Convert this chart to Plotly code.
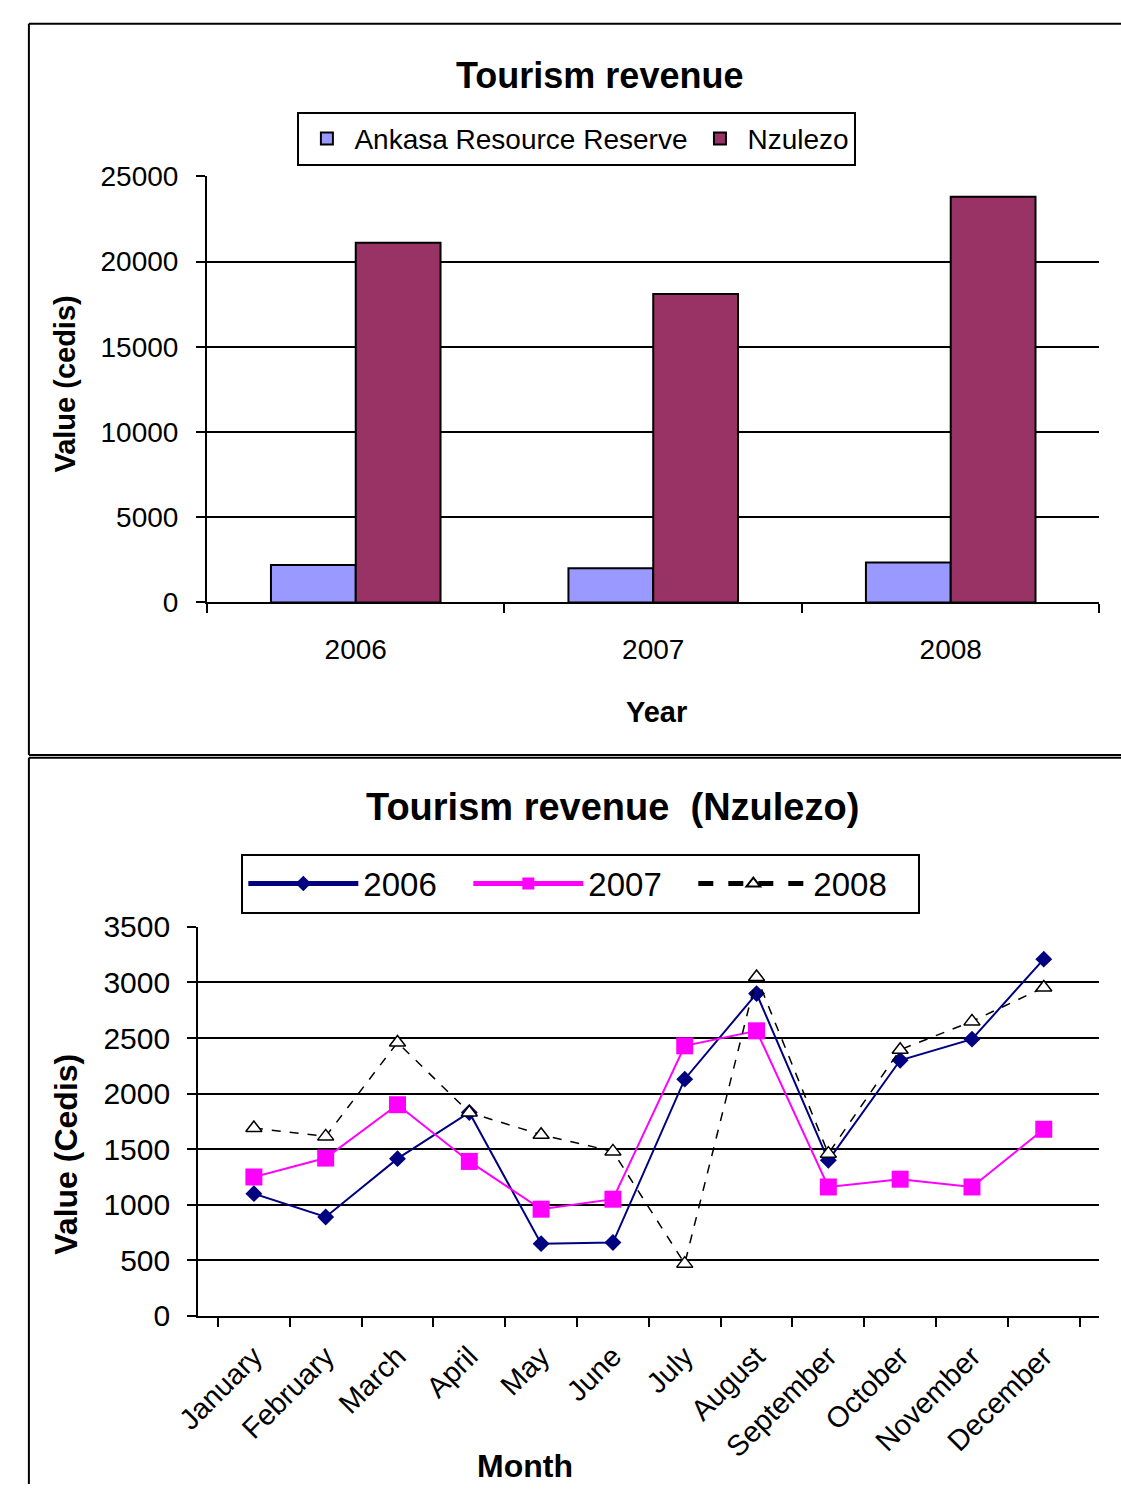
import plotly.graph_objects as go

# ---- data ----
years = ["2006", "2007", "2008"]
ankasa = [2200, 2000, 2350]
nzulezo = [21100, 18100, 23800]

months = ["January", "February", "March", "April", "May", "June", "July",
          "August", "September", "October", "November", "December"]
rev_2006 = [1100, 890, 1415, 1830, 650, 660, 2130, 2900, 1400, 2300, 2490, 3210]
rev_2007 = [1250, 1420, 1900, 1390, 960, 1050, 2430, 2565, 1160, 1230, 1160, 1680]
rev_2008 = [1690, 1615, 2460, 1830, 1630, 1480, 470, 3050, 1460, 2395, 2650, 2955]

top_ticks = [0, 5000, 10000, 15000, 20000, 25000]
bottom_ticks = [0, 500, 1000, 1500, 2000, 2500, 3000, 3500]

W, H = 1121, 1501
FONT = "Liberation Sans, Arial, sans-serif"


def px(x):
    return x / W


def py(y):
    return 1 - y / H


fig = go.Figure()

fig.add_trace(go.Bar(x=years, y=ankasa, name="Ankasa Resource Reserve",
                     marker=dict(color="#9999FF", line=dict(color="black", width=2)),
                     xaxis="x", yaxis="y", legend="legend"))
fig.add_trace(go.Bar(x=years, y=nzulezo, name="Nzulezo",
                     marker=dict(color="#993366", line=dict(color="black", width=2)),
                     xaxis="x", yaxis="y", legend="legend"))

fig.add_trace(go.Scatter(x=months, y=rev_2006, name="2006", mode="lines+markers",
                         line=dict(color="#000080", width=2),
                         marker=dict(symbol="diamond", size=13, color="#000080"),
                         xaxis="x2", yaxis="y2", legend="legend2"))
fig.add_trace(go.Scatter(x=months, y=rev_2007, name="2007", mode="lines+markers",
                         line=dict(color="#FF00FF", width=2),
                         marker=dict(symbol="square", size=17, color="#FF00FF"),
                         xaxis="x2", yaxis="y2", legend="legend2"))
fig.add_trace(go.Scatter(x=months, y=rev_2008, name="2008", mode="lines+markers",
                         line=dict(color="black", width=1.5, dash="dash"),
                         marker=dict(symbol="triangle-up", size=14, color="white",
                                     line=dict(color="black", width=1.5)),
                         xaxis="x2", yaxis="y2", legend="legend2"))

axis_common = dict(showline=True, linecolor="black", linewidth=2, ticks="outside",
                   tickcolor="black", tickwidth=2, ticklen=9, zeroline=False)


def hline(y, x0=5, x1=W):
    return dict(type="line", xref="paper", yref="paper", x0=px(x0), x1=px(x1),
                y0=py(y), y1=py(y), line=dict(color="black", width=2))


def vline(x, y0, y1):
    return dict(type="line", xref="paper", yref="paper", x0=px(x), x1=px(x),
                y0=py(y0), y1=py(y1), line=dict(color="black", width=2))


fig.update_layout(
    width=W, height=H,
    margin=dict(l=0, r=0, t=0, b=0),
    paper_bgcolor="white", plot_bgcolor="white",
    font=dict(family=FONT, color="black"),
    barmode="group", bargap=0.43, bargroupgap=0,
    xaxis=dict(domain=[px(187), px(1099)], anchor="y", type="category",
               tickson="boundaries", ticklabelstandoff=21, showgrid=False,
               tickfont=dict(family=FONT, size=28, color="black"), **axis_common),
    yaxis=dict(domain=[py(599), py(163)], anchor="x", range=[0, 25000],
               tickvals=top_ticks, tickformat="d", showgrid=True, gridcolor="black",
               gridwidth=2, ticklabelstandoff=12,
               tickfont=dict(family=FONT, size=28, color="black"), **axis_common),
    xaxis2=dict(domain=[px(178), px(1099)], anchor="y2", type="category",
                tickson="boundaries", tickangle=-45, showgrid=False,
                ticklabelstandoff=10,
                tickfont=dict(family=FONT, size=29, color="black"), **axis_common),
    yaxis2=dict(domain=[py(1329), py(931)], anchor="x2", range=[0, 3500],
                tickvals=bottom_ticks, tickformat="d", showgrid=True, gridcolor="black",
                gridwidth=2, ticklabelstandoff=11,
                tickfont=dict(family=FONT, size=30, color="black"), **axis_common),
    legend=dict(orientation="h", x=px(565), y=py(97), xanchor="center", yanchor="top",
                bordercolor="black", borderwidth=2, bgcolor="white",
                font=dict(family=FONT, size=28, color="black"),
                itemwidth=45, itemsizing="constant"),
    legend2=dict(orientation="h", x=px(569), y=py(856), xanchor="center", yanchor="top",
                 bordercolor="black", borderwidth=2, bgcolor="white",
                 font=dict(family=FONT, size=33, color="black"),
                 itemwidth=110, entrywidthmode="pixels", entrywidth=100,
                 itemsizing="constant"),
    shapes=[
        hline(7), hline(755), hline(758),
        vline(5, 7, 755), vline(5, 758, H),
    ],
    annotations=[
        dict(text="<b>Tourism revenue</b>", x=px(588), y=py(60), xref="paper", yref="paper",
             xanchor="center", yanchor="middle", showarrow=False,
             font=dict(family=FONT, size=36, color="black")),
        dict(text="<b>Year</b>", x=px(646), y=py(711), xref="paper", yref="paper",
             xanchor="center", yanchor="middle", showarrow=False,
             font=dict(family=FONT, size=29, color="black")),
        dict(text="<b>Value (cedis)</b>", x=px(42), y=py(376), xref="paper", yref="paper",
             xanchor="center", yanchor="middle", showarrow=False, textangle=-90,
             font=dict(family=FONT, size=29, color="black")),
        dict(text="<b>Tourism revenue  (Nzulezo)</b>", x=px(601), y=py(808), xref="paper",
             yref="paper", xanchor="center", yanchor="middle", showarrow=False,
             font=dict(family=FONT, size=38, color="black")),
        dict(text="<b>Month</b>", x=px(512), y=py(1483), xref="paper", yref="paper",
             xanchor="center", yanchor="middle", showarrow=False,
             font=dict(family=FONT, size=32, color="black")),
        dict(text="<b>Value (Cedis)</b>", x=px(43), y=py(1164), xref="paper", yref="paper",
             xanchor="center", yanchor="middle", showarrow=False, textangle=-90,
             font=dict(family=FONT, size=32, color="black")),
    ],
)

fig.write_html("out.html", config={"displayModeBar": False},
               post_script="document.body.style.margin='0';")
